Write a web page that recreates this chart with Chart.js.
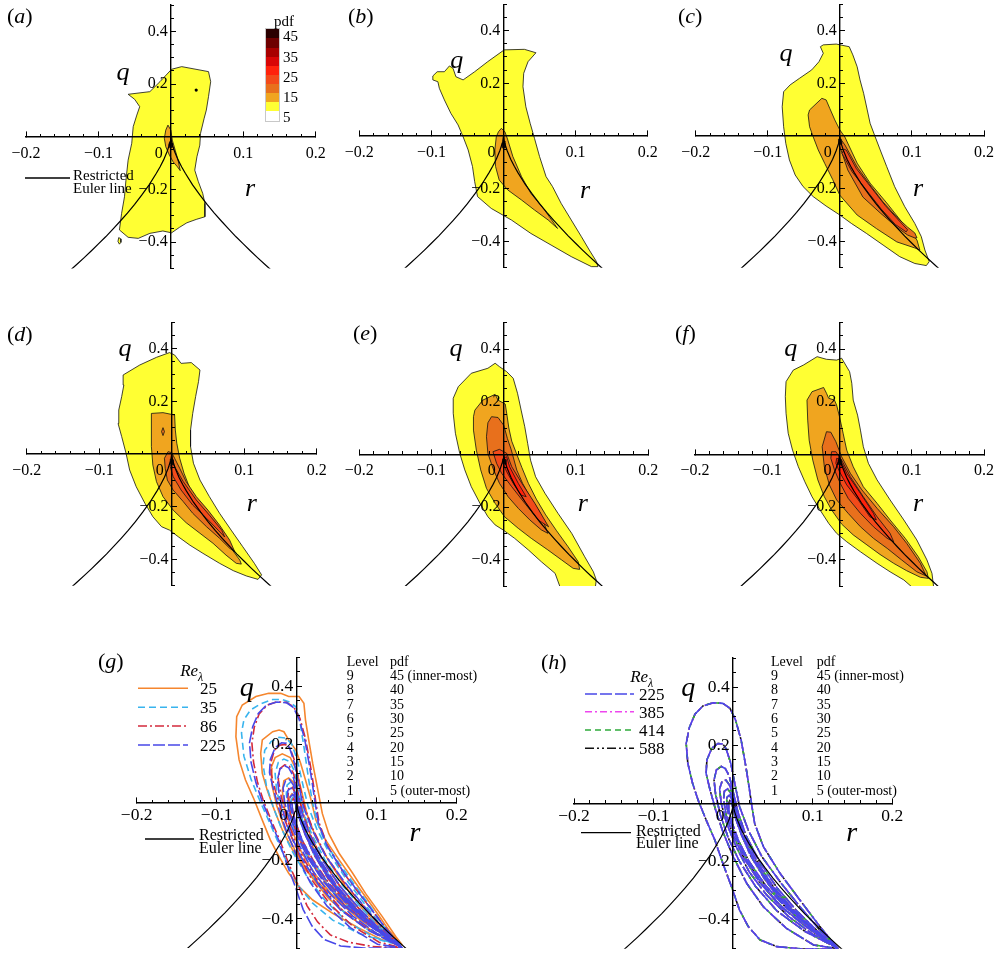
<!DOCTYPE html>
<html><head><meta charset="utf-8">
<script src="https://cdn.jsdelivr.net/npm/chart.js@4.4.1/dist/chart.umd.min.js"></script>
<style>
html,body{margin:0;padding:0;background:#fff;}
body{width:996px;height:954px;position:relative;overflow:hidden;font-family:'Liberation Serif','Times New Roman',serif;color:#000;}
canvas{position:absolute;}
.t{position:absolute;white-space:nowrap;line-height:1;}
svg.ov{position:absolute;left:0;top:0;}
</style></head><body>
<script>
// ---------------- tick values / labels ----------------
const rMajorTicks = [-0.2,-0.1,0,0.1,0.2];
const rTickLabels = ['\u22120.2','\u22120.1','0\u2003\u2002','0.1','0.2'];
const rMinorTicks = [-0.18,-0.16,-0.14,-0.12,-0.08,-0.06,-0.04,-0.02,0.02,0.04,0.06,0.08,0.12,0.14,0.16,0.18];
const qMajorTicks = [-0.4,-0.2,0.2,0.4];
const qTickLabels = ['\u22120.4\u2009','\u22120.2\u2009','0.2\u2009','0.4\u2009'];
const qMinorTicks = [-0.5,-0.45,-0.35,-0.3,-0.25,-0.15,-0.1,-0.05,0.05,0.1,0.15,0.25,0.3,0.35,0.45,0.5];

// ---------------- restricted Euler line ----------------
const eulerR = [-0.14,-0.13,-0.12,-0.11,-0.10,-0.09,-0.08,-0.07,-0.06,-0.05,-0.04,-0.03,-0.02,-0.015,-0.01,-0.005,-0.002,-0.001,0,0.001,0.002,0.005,0.01,0.015,0.02,0.03,0.04,0.05,0.06,0.07,0.08,0.09,0.10,0.11,0.12,0.13,0.14];
const eulerQ = [-0.510,-0.485,-0.460,-0.434,-0.407,-0.380,-0.351,-0.321,-0.290,-0.257,-0.221,-0.183,-0.139,-0.115,-0.088,-0.055,-0.030,-0.019,0,-0.019,-0.030,-0.055,-0.088,-0.115,-0.139,-0.183,-0.221,-0.257,-0.290,-0.321,-0.351,-0.380,-0.407,-0.434,-0.460,-0.485,-0.510];

// ---------------- pdf levels / colours ----------------
const pdfLevels = [45,40,35,30,25,20,15,10,5];
const levelColors = {45:'#2a0000',40:'#6e0000',35:'#a80000',30:'#d80606',25:'#ff220c',20:'#f34a1a',15:'#e8701c',10:'#f0a51f',5:'#ffff33'};
const colorbarTicks = ['45','35','25','15','5'];

// ---------------- panel (a) ----------------
const pdfA_5 = [[-0.059,0.161],[-0.029,0.171],[-0.015,0.209],[0.001,0.256],[0.015,0.266],[0.052,0.247],[0.055,0.209],[0.052,0.152],[0.049,0.101],[0.046,0.070],[0.041,0.013],[0.040,-0.032],[0.036,-0.076],[0.033,-0.127],[0.038,-0.171],[0.044,-0.215],[0.047,-0.253],[0.047,-0.304],[0.035,-0.314],[0.022,-0.327],[0.012,-0.344],[0.001,-0.365],[-0.011,-0.358],[-0.029,-0.367],[-0.045,-0.386],[-0.059,-0.382],[-0.071,-0.354],[-0.068,-0.291],[-0.064,-0.228],[-0.062,-0.165],[-0.059,-0.089],[-0.054,-0.025],[-0.052,0.038],[-0.047,0.082],[-0.043,0.114],[-0.050,0.142]];
const pdfA_5island = [[-0.072,-0.383],[-0.069,-0.388],[-0.069,-0.401],[-0.071,-0.408],[-0.073,-0.398]];
const pdfA_10 = [[-0.004,0.044],[0.000,0.025],[0.002,-0.013],[0.006,-0.051],[0.010,-0.089],[0.013,-0.129],[0.009,-0.114],[0.003,-0.095],[-0.002,-0.070],[-0.007,-0.038],[-0.009,-0.006],[-0.007,0.025]];
const pdfA_45 = [[-0.002,-0.022],[0.002,-0.024],[0.002,-0.040],[-0.001,-0.044],[-0.003,-0.032]];
const pdfA_dot = [[0.035,0.177]];

// ---------------- panel (b) ----------------
const pdfB_5 = [[-0.098,0.228],[-0.092,0.244],[-0.082,0.244],[-0.075,0.266],[-0.070,0.257],[-0.066,0.225],[-0.056,0.213],[-0.040,0.244],[-0.022,0.282],[0.001,0.327],[0.029,0.329],[0.045,0.316],[0.034,0.282],[0.028,0.238],[0.027,0.187],[0.031,0.111],[0.037,0.048],[0.043,-0.009],[0.050,-0.078],[0.059,-0.154],[0.068,-0.192],[0.080,-0.256],[0.094,-0.319],[0.108,-0.382],[0.119,-0.433],[0.129,-0.477],[0.131,-0.496],[0.122,-0.496],[0.094,-0.458],[0.066,-0.414],[0.038,-0.370],[0.011,-0.319],[-0.017,-0.275],[-0.036,-0.230],[-0.040,-0.173],[-0.043,-0.116],[-0.049,-0.053],[-0.056,-0.003],[-0.063,0.042],[-0.073,0.086],[-0.082,0.137],[-0.089,0.181],[-0.091,0.206],[-0.098,0.213]];
const pdfB_10 = [[-0.003,0.029],[0.002,0.016],[0.006,-0.015],[0.013,-0.078],[0.025,-0.154],[0.038,-0.218],[0.057,-0.281],[0.075,-0.351],[0.062,-0.319],[0.043,-0.281],[0.025,-0.243],[0.006,-0.205],[-0.006,-0.167],[-0.011,-0.116],[-0.012,-0.053],[-0.010,-0.003],[-0.007,0.016]];
const pdfB_45 = [[-0.002,-0.025],[0.002,-0.027],[0.002,-0.045],[-0.002,-0.045]];

// ---------------- panel (c) ----------------
const pdfC_5 = [[-0.027,0.339],[-0.023,0.346],[-0.005,0.349],[0.013,0.339],[0.018,0.308],[0.024,0.263],[0.028,0.213],[0.033,0.162],[0.038,0.099],[0.042,0.048],[0.049,-0.003],[0.056,-0.053],[0.065,-0.116],[0.076,-0.192],[0.090,-0.268],[0.104,-0.332],[0.113,-0.382],[0.118,-0.433],[0.124,-0.477],[0.120,-0.492],[0.104,-0.484],[0.083,-0.458],[0.060,-0.414],[0.037,-0.370],[0.016,-0.332],[0.000,-0.300],[-0.019,-0.266],[-0.037,-0.230],[-0.051,-0.192],[-0.062,-0.148],[-0.070,-0.091],[-0.075,-0.028],[-0.078,0.035],[-0.080,0.111],[-0.078,0.168],[-0.069,0.194],[-0.056,0.219],[-0.039,0.251],[-0.029,0.282],[-0.023,0.314]];
const pdfC_10 = [[-0.044,0.080],[-0.042,0.099],[-0.025,0.143],[-0.019,0.137],[-0.014,0.105],[-0.007,0.061],[0.000,0.023],[0.007,-0.004],[0.024,-0.103],[0.042,-0.179],[0.065,-0.254],[0.087,-0.330],[0.107,-0.395],[0.111,-0.433],[0.104,-0.425],[0.079,-0.402],[0.051,-0.352],[0.024,-0.300],[0.000,-0.225],[-0.010,-0.165],[-0.021,-0.104],[-0.030,-0.053],[-0.037,-0.003],[-0.042,0.035]];
const pdfC_15 = [[-0.001,-0.015],[0.002,-0.015],[0.007,-0.034],[0.024,-0.118],[0.042,-0.186],[0.060,-0.251],[0.079,-0.308],[0.094,-0.346],[0.104,-0.368],[0.107,-0.387],[0.104,-0.387],[0.094,-0.376],[0.079,-0.346],[0.056,-0.292],[0.032,-0.232],[0.011,-0.129],[0.000,-0.040]];
const pdfC_20 = [[0.006,-0.050],[0.009,-0.054],[0.023,-0.124],[0.043,-0.194],[0.063,-0.264],[0.083,-0.324],[0.094,-0.356],[0.092,-0.364],[0.077,-0.336],[0.057,-0.276],[0.037,-0.206],[0.017,-0.136],[0.003,-0.066]];
const pdfC_45 = [[-0.002,-0.012],[0.002,-0.012],[0.003,-0.030],[-0.001,-0.032]];

// ---------------- panel (d) ----------------
const pdfD_5 = [[-0.067,0.300],[-0.044,0.338],[-0.021,0.367],[-0.003,0.385],[0.004,0.376],[0.013,0.344],[0.027,0.347],[0.039,0.319],[0.037,0.275],[0.033,0.218],[0.029,0.154],[0.026,0.091],[0.026,0.028],[0.030,-0.035],[0.039,-0.099],[0.052,-0.162],[0.066,-0.225],[0.082,-0.289],[0.098,-0.352],[0.114,-0.415],[0.124,-0.459],[0.119,-0.476],[0.103,-0.463],[0.085,-0.443],[0.066,-0.415],[0.043,-0.377],[0.025,-0.346],[0.009,-0.314],[-0.003,-0.289],[-0.014,-0.276],[-0.026,-0.238],[-0.037,-0.187],[-0.049,-0.124],[-0.058,-0.061],[-0.063,0.003],[-0.069,0.066],[-0.074,0.116],[-0.073,0.167],[-0.069,0.218],[-0.066,0.262]];
const pdfD_10 = [[-0.028,0.154],[-0.012,0.157],[0.004,0.148],[0.005,0.091],[0.007,0.041],[0.011,-0.016],[0.017,-0.073],[0.026,-0.137],[0.039,-0.200],[0.053,-0.257],[0.069,-0.308],[0.082,-0.358],[0.094,-0.403],[0.096,-0.418],[0.089,-0.415],[0.075,-0.384],[0.057,-0.339],[0.039,-0.301],[0.020,-0.261],[0.002,-0.213],[-0.012,-0.162],[-0.021,-0.105],[-0.026,-0.042],[-0.028,0.028],[-0.028,0.091]];
const pdfD_15 = [[-0.005,0.009],[0.000,0.005],[0.004,-0.016],[0.011,-0.054],[0.020,-0.105],[0.034,-0.162],[0.050,-0.213],[0.066,-0.270],[0.080,-0.327],[0.087,-0.371],[0.080,-0.358],[0.066,-0.320],[0.048,-0.276],[0.029,-0.225],[0.016,-0.181],[0.002,-0.137],[-0.006,-0.099],[-0.009,-0.054],[-0.010,-0.016]];
const pdfD_15island = [[-0.012,0.100],[-0.010,0.085],[-0.012,0.070],[-0.014,0.085]];
const pdfD_20 = [[0.000,-0.029],[0.004,-0.048],[0.016,-0.105],[0.034,-0.175],[0.052,-0.232],[0.069,-0.289],[0.073,-0.315],[0.064,-0.289],[0.048,-0.244],[0.029,-0.194],[0.013,-0.137],[0.002,-0.086],[-0.002,-0.048]];
const pdfD_45 = [[-0.002,-0.020],[0.002,-0.022],[0.002,-0.040],[-0.002,-0.038]];

// ---------------- panel (e) ----------------
const pdfE_5 = [[-0.070,0.213],[-0.063,0.257],[-0.045,0.308],[-0.022,0.327],[-0.012,0.346],[-0.006,0.333],[0.004,0.314],[0.013,0.289],[0.019,0.232],[0.024,0.168],[0.029,0.105],[0.033,0.042],[0.037,-0.022],[0.044,-0.085],[0.057,-0.148],[0.075,-0.224],[0.094,-0.300],[0.112,-0.389],[0.124,-0.446],[0.128,-0.477],[0.126,-0.520],[0.080,-0.520],[0.071,-0.452],[0.052,-0.408],[0.034,-0.363],[0.015,-0.319],[-0.001,-0.287],[-0.012,-0.268],[-0.022,-0.237],[-0.033,-0.186],[-0.045,-0.123],[-0.054,-0.059],[-0.061,0.004],[-0.067,0.080],[-0.070,0.156]];
const pdfE_10 = [[-0.040,0.168],[-0.029,0.206],[-0.012,0.228],[-0.008,0.206],[0.002,0.191],[0.004,0.156],[0.007,0.100],[0.011,0.050],[0.018,0.000],[0.025,-0.050],[0.034,-0.110],[0.045,-0.170],[0.058,-0.230],[0.073,-0.290],[0.089,-0.351],[0.103,-0.408],[0.105,-0.437],[0.096,-0.433],[0.080,-0.401],[0.061,-0.363],[0.038,-0.319],[0.020,-0.281],[0.001,-0.237],[-0.012,-0.186],[-0.024,-0.129],[-0.032,-0.059],[-0.038,0.016],[-0.042,0.092],[-0.042,0.143]];
const pdfE_15 = [[-0.017,0.143],[-0.008,0.140],[0.000,0.110],[0.005,0.060],[0.010,0.020],[0.013,-0.010],[0.018,-0.060],[0.026,-0.110],[0.036,-0.160],[0.050,-0.220],[0.061,-0.300],[0.052,-0.287],[0.036,-0.249],[0.020,-0.205],[0.006,-0.161],[-0.006,-0.110],[-0.015,-0.053],[-0.022,0.004],[-0.024,0.067],[-0.022,0.120]];
const pdfE_20 = [[-0.015,0.010],[-0.006,0.019],[0.004,0.004],[0.011,-0.047],[0.025,-0.110],[0.043,-0.186],[0.062,-0.275],[0.048,-0.250],[0.029,-0.186],[0.011,-0.123],[-0.003,-0.072],[-0.010,-0.034]];
const pdfE_25 = [[-0.001,-0.015],[0.004,-0.009],[0.008,-0.047],[0.020,-0.110],[0.031,-0.161],[0.024,-0.155],[0.013,-0.110],[0.004,-0.066],[-0.001,-0.034]];
const pdfE_45 = [[-0.001,-0.018],[0.003,-0.020],[0.003,-0.038],[-0.001,-0.036]];

// ---------------- panel (f) ----------------
const pdfF_5 = [[-0.074,0.276],[-0.064,0.320],[-0.050,0.339],[-0.031,0.371],[-0.018,0.361],[-0.004,0.358],[0.003,0.365],[0.014,0.314],[0.017,0.270],[0.019,0.206],[0.025,0.149],[0.029,0.092],[0.033,0.029],[0.040,-0.034],[0.052,-0.097],[0.070,-0.173],[0.089,-0.249],[0.107,-0.325],[0.121,-0.401],[0.128,-0.452],[0.131,-0.520],[0.107,-0.520],[0.089,-0.477],[0.070,-0.446],[0.052,-0.414],[0.029,-0.370],[0.010,-0.332],[-0.004,-0.300],[-0.015,-0.262],[-0.027,-0.211],[-0.038,-0.161],[-0.048,-0.104],[-0.057,-0.047],[-0.065,0.016],[-0.071,0.080],[-0.074,0.156],[-0.075,0.219]];
const pdfF_10 = [[-0.045,0.206],[-0.038,0.238],[-0.022,0.254],[-0.018,0.232],[-0.015,0.213],[-0.007,0.206],[-0.004,0.187],[0.000,0.143],[0.005,0.080],[0.010,0.016],[0.019,-0.047],[0.033,-0.123],[0.052,-0.186],[0.070,-0.249],[0.091,-0.319],[0.109,-0.389],[0.121,-0.446],[0.123,-0.471],[0.112,-0.467],[0.093,-0.442],[0.075,-0.414],[0.056,-0.380],[0.038,-0.344],[0.019,-0.306],[0.003,-0.265],[-0.011,-0.211],[-0.021,-0.161],[-0.030,-0.097],[-0.037,-0.022],[-0.042,0.054],[-0.044,0.130]];
const pdfF_15 = [[-0.018,0.086],[-0.012,0.084],[-0.005,0.048],[0.003,-0.009],[0.015,-0.072],[0.031,-0.135],[0.052,-0.205],[0.075,-0.275],[0.093,-0.338],[0.112,-0.414],[0.120,-0.462],[0.107,-0.446],[0.086,-0.401],[0.066,-0.357],[0.047,-0.319],[0.029,-0.275],[0.012,-0.224],[-0.004,-0.173],[-0.014,-0.116],[-0.021,-0.047],[-0.024,0.029]];
const pdfF_20 = [[-0.011,0.010],[-0.005,0.010],[0.003,-0.022],[0.015,-0.085],[0.033,-0.161],[0.052,-0.237],[0.070,-0.300],[0.075,-0.332],[0.066,-0.319],[0.047,-0.275],[0.029,-0.224],[0.012,-0.167],[0.001,-0.110],[-0.007,-0.059],[-0.012,-0.015]];
const pdfF_25 = [[-0.004,-0.015],[0.001,-0.019],[0.010,-0.072],[0.029,-0.148],[0.047,-0.224],[0.051,-0.249],[0.042,-0.237],[0.026,-0.173],[0.010,-0.116],[0.000,-0.066],[-0.005,-0.034]];
const pdfF_45 = [[-0.002,-0.020],[0.002,-0.022],[0.002,-0.040],[-0.002,-0.038]];

// ---------------- panels (g), (h): contour lines per Re_lambda ----------------
const re225_L1 = [[0.132,-0.5],[0.109,-0.424],[0.084,-0.333],[0.059,-0.241],[0.038,-0.149],[0.027,-0.069],[0.023,0.0],[0.020,0.057],[0.016,0.126],[0.010,0.218],[0.003,0.287],[-0.004,0.327],[-0.013,0.344],[-0.025,0.346],[-0.038,0.335],[-0.048,0.307],[-0.055,0.261],[-0.059,0.206],[-0.057,0.138],[-0.051,0.069],[-0.044,0.011],[-0.034,-0.057],[-0.023,-0.126],[-0.013,-0.206],[-0.002,-0.287],[0.008,-0.367],[0.019,-0.424],[0.034,-0.470],[0.055,-0.493],[0.084,-0.5],[0.117,-0.5]];
const re225_L2 = [[0.132,-0.5],[0.109,-0.436],[0.084,-0.356],[0.059,-0.270],[0.036,-0.183],[0.019,-0.092],[0.008,-0.011],[0.002,0.069],[-0.003,0.138],[-0.009,0.189],[-0.013,0.204],[-0.019,0.206],[-0.027,0.189],[-0.033,0.149],[-0.034,0.103],[-0.029,0.046],[-0.022,-0.023],[-0.013,-0.097],[0.0,-0.183],[0.017,-0.275],[0.038,-0.356],[0.067,-0.430],[0.101,-0.487]];
const re225_L3 = [[0.131,-0.498],[0.105,-0.437],[0.08,-0.37],[0.055,-0.29],[0.033,-0.2],[0.016,-0.11],[0.006,-0.03],[0.0,0.04],[-0.005,0.095],[-0.01,0.12],[-0.015,0.127],[-0.021,0.115],[-0.024,0.08],[-0.022,0.03],[-0.016,-0.04],[-0.006,-0.12],[0.008,-0.2],[0.028,-0.285],[0.055,-0.37],[0.09,-0.44]];
const re225_L4 = [[0.13,-0.496],[0.1,-0.43],[0.075,-0.365],[0.05,-0.285],[0.03,-0.2],[0.014,-0.11],[0.005,-0.04],[0.0,0.02],[-0.004,0.06],[-0.009,0.08],[-0.014,0.075],[-0.017,0.05],[-0.015,0.0],[-0.008,-0.07],[0.004,-0.15],[0.02,-0.235],[0.042,-0.315],[0.07,-0.39],[0.1,-0.45]];
const re225_L5 = [[0.128,-0.493],[0.095,-0.42],[0.07,-0.355],[0.047,-0.28],[0.028,-0.2],[0.013,-0.12],[0.004,-0.05],[0.0,0.0],[-0.003,0.035],[-0.007,0.05],[-0.011,0.042],[-0.012,0.015],[-0.009,-0.04],[0.0,-0.11],[0.014,-0.19],[0.033,-0.27],[0.058,-0.35],[0.09,-0.42]];
const re225_L6 = [[0.125,-0.488],[0.09,-0.41],[0.065,-0.345],[0.043,-0.27],[0.025,-0.19],[0.011,-0.11],[0.003,-0.05],[0.0,-0.01],[-0.002,0.018],[-0.005,0.028],[-0.008,0.02],[-0.008,-0.01],[-0.004,-0.06],[0.004,-0.12],[0.018,-0.2],[0.037,-0.28],[0.062,-0.36],[0.092,-0.425]];
const re225_L7 = [[0.12,-0.48],[0.085,-0.4],[0.06,-0.335],[0.04,-0.262],[0.022,-0.18],[0.01,-0.105],[0.003,-0.05],[0.0,-0.02],[-0.002,0.003],[-0.004,0.01],[-0.006,0.0],[-0.005,-0.03],[-0.001,-0.07],[0.007,-0.13],[0.02,-0.2],[0.04,-0.28],[0.065,-0.355],[0.093,-0.42]];

const re86_L1 = [[0.131,-0.5],[0.108,-0.42],[0.083,-0.33],[0.058,-0.24],[0.039,-0.15],[0.028,-0.07],[0.024,0.0],[0.021,0.06],[0.017,0.13],[0.011,0.22],[0.004,0.29],[-0.004,0.33],[-0.013,0.345],[-0.025,0.347],[-0.037,0.335],[-0.047,0.305],[-0.053,0.26],[-0.056,0.205],[-0.054,0.14],[-0.049,0.07],[-0.042,0.01],[-0.032,-0.06],[-0.021,-0.13],[-0.01,-0.21],[0.002,-0.285],[0.013,-0.355],[0.026,-0.41],[0.042,-0.455],[0.065,-0.48],[0.095,-0.495]];
const re86_L2 = [[0.131,-0.5],[0.108,-0.435],[0.083,-0.355],[0.058,-0.27],[0.036,-0.18],[0.02,-0.09],[0.009,-0.01],[0.003,0.07],[-0.002,0.14],[-0.008,0.185],[-0.014,0.2],[-0.021,0.198],[-0.028,0.18],[-0.032,0.14],[-0.032,0.1],[-0.027,0.045],[-0.02,-0.02],[-0.01,-0.095],[0.003,-0.18],[0.02,-0.27],[0.042,-0.35],[0.07,-0.425],[0.103,-0.48]];
const re86_L3 = [[0.13,-0.497],[0.104,-0.435],[0.079,-0.368],[0.054,-0.288],[0.033,-0.2],[0.017,-0.11],[0.007,-0.03],[0.001,0.04],[-0.004,0.1],[-0.009,0.125],[-0.015,0.13],[-0.021,0.117],[-0.023,0.08],[-0.02,0.03],[-0.014,-0.04],[-0.004,-0.12],[0.01,-0.2],[0.03,-0.285],[0.057,-0.37],[0.092,-0.44]];
const re86_L5 = [[0.127,-0.49],[0.094,-0.418],[0.069,-0.352],[0.046,-0.278],[0.027,-0.198],[0.013,-0.12],[0.004,-0.05],[0.0,0.005],[-0.003,0.04],[-0.006,0.055],[-0.01,0.048],[-0.011,0.018],[-0.008,-0.04],[0.001,-0.11],[0.015,-0.19],[0.034,-0.27],[0.059,-0.35],[0.09,-0.418]];
const re86_L7 = [[0.118,-0.476],[0.084,-0.398],[0.059,-0.332],[0.039,-0.26],[0.022,-0.18],[0.01,-0.105],[0.003,-0.05],[0.0,-0.018],[-0.002,0.006],[-0.004,0.014],[-0.006,0.004],[-0.005,-0.028],[-0.001,-0.07],[0.007,-0.13],[0.021,-0.2],[0.041,-0.28],[0.066,-0.355],[0.093,-0.418]];

const re35_L1 = [[0.13,-0.49],[0.115,-0.45],[0.095,-0.369],[0.074,-0.289],[0.053,-0.209],[0.036,-0.14],[0.026,-0.071],[0.02,-0.002],[0.015,0.078],[0.009,0.193],[0.003,0.296],[-0.001,0.33],[-0.01,0.347],[-0.018,0.355],[-0.03,0.355],[-0.045,0.34],[-0.058,0.318],[-0.066,0.285],[-0.069,0.24],[-0.066,0.16],[-0.057,0.08],[-0.045,0.0],[-0.032,-0.08],[-0.021,-0.15],[-0.01,-0.22],[0.003,-0.289],[0.02,-0.346],[0.045,-0.404],[0.078,-0.45],[0.111,-0.478]];
const re35_L2 = [[0.13,-0.49],[0.11,-0.437],[0.088,-0.36],[0.064,-0.272],[0.042,-0.18],[0.025,-0.09],[0.014,-0.01],[0.007,0.07],[0.001,0.145],[-0.006,0.2],[-0.013,0.222],[-0.022,0.225],[-0.032,0.21],[-0.04,0.18],[-0.042,0.13],[-0.038,0.06],[-0.03,-0.01],[-0.019,-0.09],[-0.005,-0.17],[0.013,-0.255],[0.035,-0.335],[0.063,-0.41],[0.098,-0.465]];
const re35_L3 = [[0.129,-0.487],[0.104,-0.43],[0.08,-0.36],[0.056,-0.28],[0.035,-0.195],[0.019,-0.11],[0.008,-0.03],[0.002,0.04],[-0.003,0.11],[-0.009,0.142],[-0.016,0.15],[-0.023,0.138],[-0.027,0.1],[-0.025,0.04],[-0.018,-0.03],[-0.008,-0.11],[0.007,-0.195],[0.027,-0.28],[0.054,-0.365],[0.088,-0.435]];
const re35_L5 = [[0.126,-0.485],[0.094,-0.415],[0.069,-0.348],[0.046,-0.272],[0.027,-0.19],[0.013,-0.11],[0.005,-0.04],[0.0,0.02],[-0.004,0.055],[-0.008,0.07],[-0.012,0.06],[-0.013,0.03],[-0.01,-0.03],[-0.002,-0.1],[0.012,-0.18],[0.031,-0.26],[0.056,-0.34],[0.088,-0.41]];
const re35_L7 = [[0.117,-0.472],[0.083,-0.395],[0.058,-0.328],[0.038,-0.255],[0.021,-0.175],[0.009,-0.1],[0.002,-0.045],[-0.001,-0.012],[-0.003,0.01],[-0.005,0.018],[-0.007,0.008],[-0.007,-0.025],[-0.003,-0.068],[0.005,-0.125],[0.019,-0.195],[0.039,-0.275],[0.064,-0.35],[0.091,-0.412]];

const re25_L1 = [[0.132,-0.49],[0.124,-0.461],[0.107,-0.392],[0.086,-0.312],[0.07,-0.243],[0.053,-0.174],[0.04,-0.106],[0.032,-0.037],[0.028,0.021],[0.024,0.078],[0.02,0.135],[0.015,0.216],[0.011,0.284],[0.009,0.342],[0.003,0.365],[-0.01,0.365],[-0.02,0.376],[-0.035,0.376],[-0.051,0.365],[-0.068,0.336],[-0.075,0.296],[-0.076,0.227],[-0.072,0.147],[-0.064,0.078],[-0.053,0.009],[-0.043,-0.06],[-0.033,-0.128],[-0.022,-0.186],[-0.01,-0.243],[0.003,-0.289],[0.02,-0.335],[0.045,-0.381],[0.078,-0.432],[0.107,-0.472]];
const re25_L2 = [[0.13,-0.486],[0.111,-0.455],[0.086,-0.404],[0.057,-0.346],[0.032,-0.289],[0.011,-0.232],[-0.005,-0.163],[-0.018,-0.094],[-0.028,-0.025],[-0.037,0.044],[-0.043,0.101],[-0.045,0.17],[-0.043,0.216],[-0.03,0.244],[-0.022,0.25],[-0.016,0.244],[-0.01,0.216],[-0.001,0.181],[0.005,0.135],[0.011,0.078],[0.018,0.009],[0.024,-0.06],[0.036,-0.128],[0.053,-0.197],[0.074,-0.278],[0.095,-0.358],[0.115,-0.438]];
const re25_L3 = [[0.128,-0.483],[0.105,-0.43],[0.082,-0.365],[0.06,-0.285],[0.04,-0.2],[0.024,-0.12],[0.013,-0.04],[0.006,0.04],[0.0,0.11],[-0.008,0.155],[-0.018,0.168],[-0.027,0.155],[-0.032,0.12],[-0.031,0.06],[-0.025,-0.01],[-0.015,-0.09],[-0.001,-0.17],[0.017,-0.25],[0.04,-0.33],[0.07,-0.4],[0.1,-0.45]];
const re25_L5 = [[0.125,-0.48],[0.096,-0.415],[0.072,-0.348],[0.05,-0.272],[0.031,-0.19],[0.017,-0.11],[0.008,-0.04],[0.002,0.03],[-0.004,0.07],[-0.01,0.085],[-0.016,0.075],[-0.018,0.04],[-0.015,-0.02],[-0.007,-0.09],[0.006,-0.17],[0.024,-0.25],[0.048,-0.33],[0.08,-0.405]];
const re25_L7 = [[0.118,-0.47],[0.086,-0.398],[0.061,-0.33],[0.041,-0.256],[0.024,-0.175],[0.012,-0.1],[0.004,-0.04],[0.0,0.0],[-0.003,0.025],[-0.006,0.03],[-0.009,0.018],[-0.009,-0.02],[-0.005,-0.07],[0.004,-0.13],[0.018,-0.2],[0.038,-0.28],[0.063,-0.352],[0.09,-0.415]];

// panel (h): the four Re series coincide in the picture
const re225Levels = [re225_L1,re225_L2,re225_L3,re225_L4,re225_L5,re225_L6,re225_L7];
const re385Levels = re225Levels, re414Levels = re225Levels, re588Levels = re225Levels;
const re86Levels = [re86_L1,re86_L2,re86_L3,re86_L5,re86_L7];
const re35Levels = [re35_L1,re35_L2,re35_L3,re35_L5,re35_L7];
const re25Levels = [re25_L1,re25_L2,re25_L3,re25_L5,re25_L7];

const seriesG = ['25','35','86','225'];
const seriesH = ['225','385','414','588'];
const seriesStyle = {
  '25': {color:'#f5862e', dash:[]},
  '35': {color:'#38b4ee', dash:[7,4]},
  '86': {color:'#d42a3c', dash:[9,3,2,3]},
  '225':{color:'#4848e8', dash:[12,3]},
  '385':{color:'#ee46ee', dash:[7,3,2,3]},
  '414':{color:'#2eaa3a', dash:[6,4]},
  '588':{color:'#111111', dash:[9,3,2,3,2,3]}
};
const levelTableLevels = ['9','8','7','6','5','4','3','2','1'];
const levelTablePdf = ['45 (inner-most)','40','35','30','25','20','15','10','5 (outer-most)'];

// ---------------- layout (page pixels of each plot area: left, top, right, bottom) ----------------
const panelArea = {
  a:[26,5,315.7,268.4], b:[359.3,4.3,647.7,267.7], c:[695.7,4.3,984,267.7],
  d:[26.7,322.3,316.7,585.7], e:[359.3,322.7,648.3,586], f:[695,322.7,984,586],
  g:[136.7,657.3,456.7,948], h:[574,658,892.3,948.7]
};

Chart.defaults.font.family = "'Liberation Serif','Times New Roman',serif";
Chart.defaults.color = '#000';

const P = a => a.map(p => ({x:p[0], y:p[1]}));
const closed = a => P(a.concat([a[0]]));

function fillDs(pts, level){
  return {data:closed(pts), fill:'shape', backgroundColor:levelColors[level], borderColor:'#111',
          borderWidth:0.8, pointRadius:0, tension:0};
}
function eulerDs(){
  return {data:eulerR.map((r,i)=>({x:r,y:eulerQ[i]})), fill:false, borderColor:'#000', borderWidth:1.2, pointRadius:0, tension:0};
}
function lineDs(pts, key){
  const s = seriesStyle[key];
  return {data:closed(pts), fill:false, borderColor:s.color, borderDash:s.dash, borderWidth:1.6, pointRadius:0, tension:0};
}

function scalesFor(fs, labPad){
  const font = {family:"'Liberation Serif','Times New Roman',serif", size:fs};
  return {
    x: {type:'linear', min:-0.2, max:0.2, position:{y:0},
      afterBuildTicks: s => { s.ticks = rMajorTicks.map(v => ({value:v})); },
      ticks:{callback:(v,i)=>rTickLabels[i], autoSkip:false, maxRotation:0, minRotation:0, padding:labPad, color:'#000', font, z:3},
      grid:{drawOnChartArea:false, drawTicks:true, tickLength:-6, tickColor:'#000', tickWidth:1, z:3},
      border:{display:true, color:'#000', width:1.4, z:3}},
    xm: {type:'linear', min:-0.2, max:0.2, position:{y:0},
      afterBuildTicks: s => { s.ticks = rMinorTicks.map(v => ({value:v})); },
      ticks:{display:false, z:3},
      grid:{drawOnChartArea:false, drawTicks:true, tickLength:-3, tickColor:'#000', tickWidth:1, z:3},
      border:{display:false}},
    y: {type:'linear', min:-0.5, max:0.5, position:{x:0},
      afterBuildTicks: s => { s.ticks = qMajorTicks.map(v => ({value:v})); },
      ticks:{callback:(v,i)=>qTickLabels[i], autoSkip:false, padding:0, color:'#000', font, z:3},
      grid:{drawOnChartArea:false, drawTicks:true, tickLength:-6, tickColor:'#000', tickWidth:1, z:3},
      border:{display:true, color:'#000', width:1.4, z:3}},
    ym: {type:'linear', min:-0.5, max:0.5, position:{x:0},
      afterBuildTicks: s => { s.ticks = qMinorTicks.map(v => ({value:v})); },
      ticks:{display:false, z:3},
      grid:{drawOnChartArea:false, drawTicks:true, tickLength:-3, tickColor:'#000', tickWidth:1, z:3},
      border:{display:false}}
  };
}

function makePanel(key, bottomToTop, fs, labPad){
  const [l,t,r,b] = panelArea[key];
  const cl = Math.floor(l) - 36, ct = Math.floor(t) - 18;
  const cw = Math.ceil(r) + 36 - cl, ch = Math.ceil(b) + 18 - ct;
  const cv = document.createElement('canvas');
  cv.width = cw; cv.height = ch;
  cv.style.left = cl + 'px'; cv.style.top = ct + 'px';
  cv.style.width = cw + 'px'; cv.style.height = ch + 'px';
  document.body.appendChild(cv);
  new Chart(cv, {
    type:'line',
    data:{datasets: bottomToTop.slice().reverse()},
    options:{responsive:false, animation:false, devicePixelRatio:1, events:[],
      layout:{padding:{left:l-cl, top:t-ct, right:cl+cw-r, bottom:ct+ch-b}},
      plugins:{legend:{display:false}, tooltip:{enabled:false}},
      scales: scalesFor(fs, labPad)}
  });
}

// ---------------- filled panels ----------------
makePanel('a', [fillDs(pdfA_5,5), fillDs(pdfA_5island,5), fillDs(pdfA_10,10), fillDs(pdfA_45,45),
  {data:P(pdfA_dot), showLine:false, pointRadius:1.6, pointBackgroundColor:'#000', pointBorderWidth:0}, eulerDs()], 16, 13);
makePanel('b', [fillDs(pdfB_5,5), fillDs(pdfB_10,10), fillDs(pdfB_45,45), eulerDs()], 16, 13);
makePanel('c', [fillDs(pdfC_5,5), fillDs(pdfC_10,10), fillDs(pdfC_15,15), fillDs(pdfC_20,20), fillDs(pdfC_45,45), eulerDs()], 16, 13);
makePanel('d', [fillDs(pdfD_5,5), fillDs(pdfD_10,10), fillDs(pdfD_15island,15), fillDs(pdfD_15,15), fillDs(pdfD_20,20), fillDs(pdfD_45,45), eulerDs()], 16, 13);
makePanel('e', [fillDs(pdfE_5,5), fillDs(pdfE_10,10), fillDs(pdfE_15,15), fillDs(pdfE_20,20), fillDs(pdfE_25,25), fillDs(pdfE_45,45), eulerDs()], 16, 13);
makePanel('f', [fillDs(pdfF_5,5), fillDs(pdfF_10,10), fillDs(pdfF_15,15), fillDs(pdfF_20,20), fillDs(pdfF_25,25), fillDs(pdfF_45,45), eulerDs()], 16, 13);

// ---------------- line-contour panels ----------------
const levelsOf = {'25':re25Levels,'35':re35Levels,'86':re86Levels,'225':re225Levels,'385':re385Levels,'414':re414Levels,'588':re588Levels};
const gSets = [];
seriesG.forEach(k => levelsOf[k].forEach(L => gSets.push(lineDs(L,k))));
gSets.push(eulerDs());
makePanel('g', gSets, 17.5, 8.5);
const hSets = [];
seriesH.slice().reverse().forEach(k => levelsOf[k].forEach(L => hSets.push(lineDs(L,k))));
hSets.push(eulerDs());
makePanel('h', hSets, 17.5, 8.5);

// ---------------- text ----------------
function T(html, x, y, size, anchor, italic){
  const d = document.createElement('div');
  d.className = 't'; d.innerHTML = html;
  d.style.left = x + 'px'; d.style.top = y + 'px'; d.style.fontSize = size + 'px';
  if (italic) d.style.fontStyle = 'italic';
  d.style.transform = anchor === 'l' ? 'translate(0,-50%)' : 'translate(-50%,-50%)';
  document.body.appendChild(d);
}
const panelLabels = [['a',7,16,22],['b',348,16,22],['c',678,16,22],['d',7,334,22],['e',353,333,22],['f',675,333,22],['g',98,661,22],['h',541,662,22]];
panelLabels.forEach(p => T('(<i>'+p[0]+'</i>)', p[1], p[2], p[3], 'l'));
const qTitlePos = [[123,72],[456.7,60],[786,53],[125,348],[456,348],[790.7,348],[246.7,686.7],[688.3,686.7]];
const rTitlePos = [[250,188],[585,190],[918,188],[251.7,503],[582.7,503],[918,503],[415,831.7],[851.7,831.7]];
qTitlePos.forEach((p,i) => T('q', p[0], p[1], i<6?26:28, 'c', true));
rTitlePos.forEach((p,i) => T('r', p[0], p[1], i<6?26:28, 'c', true));

// Restricted Euler line legends
const eulerLegends = [[25,70,178,73,174.5,188,15],[145,194,839,199,835,847.5,16],[581,631,832.7,636,830.7,842.5,16]];
let svg = '<svg class="ov" width="996" height="954" xmlns="http://www.w3.org/2000/svg">';
eulerLegends.forEach(e => {
  svg += `<line x1="${e[0]}" y1="${e[2]}" x2="${e[1]}" y2="${e[2]}" stroke="#000" stroke-width="1.3"/>`;
  T('Restricted', e[3], e[4], e[6], 'l');
  T('Euler line', e[3], e[5], e[6], 'l');
});
// Re legends
const legG = {x1:138, x2:188, tx:200, ys:[688.3,707.3,726,745], hx:191.7, hy:673.3};
const legH = {x1:585, x2:634, tx:639, ys:[694,711.7,730,748.3], hx:641.7, hy:679.3};
[[legG,seriesG],[legH,seriesH]].forEach(([L,ser]) => {
  T('<i>Re</i><sub style="font-size:70%;font-style:italic">\u03bb</sub>', L.hx, L.hy, 17, 'c');
  ser.forEach((k,i) => {
    const s = seriesStyle[k];
    svg += `<line x1="${L.x1}" y1="${L.ys[i]}" x2="${L.x2}" y2="${L.ys[i]}" stroke="${s.color}" stroke-width="1.6" ${s.dash.length?'stroke-dasharray="'+s.dash.join(',')+'"':''}/>`;
    T(k, L.tx, L.ys[i], 17, 'l');
  });
});
svg += '</svg>';
const holder = document.createElement('div'); holder.innerHTML = svg; document.body.appendChild(holder.firstChild);

// Level tables
[[346.7,390],[771,816.7]].forEach(([lx,px]) => {
  T('Level', lx, 661.7, 14, 'l'); T('pdf', px, 661.7, 14, 'l');
  levelTableLevels.forEach((lv,i) => { const y = 676 + i*14.34; T(lv, lx, y, 14, 'l'); T(levelTablePdf[i], px, y, 14, 'l'); });
});

// colour bar (panel a)
const cb = document.createElement('div');
cb.style.cssText = 'position:absolute;left:265px;top:28.3px;width:15px;height:93.4px;border:1px solid #c8c8c8;box-sizing:border-box;';
const cbColors = pdfLevels.map(l => levelColors[l]).concat(['#ffffff']);
cbColors.forEach(c => { const s = document.createElement('div'); s.style.cssText = 'height:10%;background:' + c; cb.appendChild(s); });
document.body.appendChild(cb);
T('pdf', 284, 21, 15, 'c');
[36,56.5,76.5,97,117].forEach((y,i) => T(colorbarTicks[i], 283, y, 15, 'l'));
</script>
</body></html>
